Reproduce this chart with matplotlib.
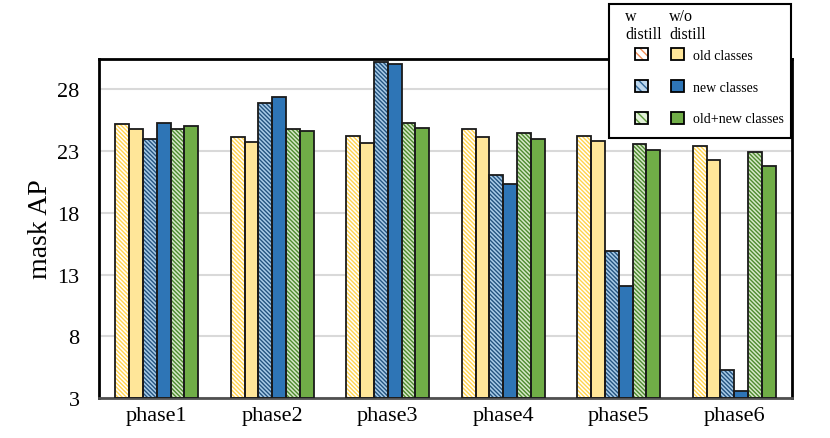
import matplotlib
matplotlib.use("Agg")
import matplotlib.pyplot as plt
import numpy as np
from matplotlib.patches import Patch, Rectangle
from matplotlib.legend_handler import HandlerTuple

plt.rcParams['font.family'] = ['Liberation Serif', 'DejaVu Serif']
plt.rcParams['hatch.linewidth'] = 1.0

phases = ["phase1", "phase2", "phase3", "phase4", "phase5", "phase6"]

old_w = [25.2, 24.1, 24.2, 24.75, 24.2, 23.4]
old_wo = [24.8, 23.7, 23.65, 24.15, 23.8, 22.3]
new_w = [23.95, 26.9, 30.2, 21.05, 14.9, 5.3]
new_wo = [25.3, 27.4, 30.05, 20.35, 12.1, 3.6]
both_w = [24.8, 24.75, 25.3, 24.45, 23.6, 22.9]
both_wo = [25.0, 24.6, 24.85, 24.0, 23.1, 21.75]

yticks = [3, 8, 13, 18, 23, 28]

# (values, face colour, hatch colour or None)
series = [
    (old_w, "white", "#FFD34D"),
    (old_wo, "#FFE699", None),
    (new_w, "#A9CCE8", "#24537F"),
    (new_wo, "#2E75B6", None),
    (both_w, "#D5E8C8", "#4E8A2E"),
    (both_wo, "#70AD47", None),
]

fig = plt.figure(figsize=(8.3, 4.39), dpi=100)
ax = fig.add_axes([99 / 830, 1 - 399 / 439, 693 / 830, 339 / 439])

x = np.arange(len(phases))
width = 0.12
for i, (vals, face, hcol) in enumerate(series):
    pos = x + (i - 2.5) * width
    heights = np.array(vals) - 3
    if hcol:
        ax.bar(pos, heights, width, bottom=3, color=face, edgecolor=hcol,
               hatch="\\" * 8, linewidth=0, zorder=2)
    else:
        ax.bar(pos, heights, width, bottom=3, color=face, linewidth=0, zorder=2)
    ax.bar(pos, heights, width, bottom=3, fill=False, edgecolor="#1a1a1a",
           linewidth=1.3, zorder=3)

ax.set_xlim(-0.5, 5.5)
ax.set_ylim(3, 30.45)
ax.set_yticks(yticks)
ax.set_xticks(x)
ax.set_xticklabels(phases)
ax.tick_params(axis="both", length=0, labelsize=16)
ax.tick_params(axis="y", pad=14)
ax.tick_params(axis="x", pad=6)
ax.yaxis.grid(True, color="#D9D9D9", linewidth=1.5, zorder=0)
ax.set_axisbelow(True)
ax.set_ylabel("mask AP", fontsize=20, labelpad=3)

for side in ["left", "top", "right"]:
    ax.spines[side].set_linewidth(2)
    ax.spines[side].set_color("black")
ax.spines["bottom"].set_linewidth(2)
ax.spines["bottom"].set_color("#505050")

# legend box
fig.patches.append(Rectangle((609 / 830, 1 - 139 / 439), 182 / 830, 134 / 439,
                             transform=fig.transFigure, facecolor="white",
                             edgecolor="black", linewidth=1.5, zorder=10))

def hatched(face, hcol):
    return (Patch(facecolor=face, edgecolor=hcol, hatch="\\" * 4, linewidth=0),
            Patch(fill=False, edgecolor="black", linewidth=1.3))

handles = [
    hatched("white", "#F0905A"),
    hatched("#BDD7EE", "#2F6596"),
    hatched("#E2F0D9", "#5E9B3A"),
    Patch(facecolor="#FFE699", edgecolor="black", linewidth=1.3),
    Patch(facecolor="#2E75B6", edgecolor="black", linewidth=1.3),
    Patch(facecolor="#70AD47", edgecolor="black", linewidth=1.3),
]
labels = ["", "", "", "old classes", "new classes", "old+new classes"]
leg = fig.legend(handles, labels, ncol=2, loc="upper left",
                 bbox_to_anchor=(628 / 830, 1 - 42 / 439), frameon=False,
                 fontsize=10, handlelength=0.95, handleheight=0.95,
                 handletextpad=0.6, columnspacing=1.05, labelspacing=1.3,
                 borderpad=0, handler_map={tuple: HandlerTuple(ndivide=1)})
leg.set_zorder(11)

fig.text(625 / 830, 1 - 21 / 439, "w", fontsize=11.5, zorder=12, va="baseline")
fig.text(625 / 830, 1 - 39 / 439, "distill", fontsize=11.5, zorder=12, va="baseline")
fig.text(669 / 830, 1 - 21 / 439, "w/o", fontsize=11.5, zorder=12, va="baseline")
fig.text(669 / 830, 1 - 39 / 439, "distill", fontsize=11.5, zorder=12, va="baseline")

fig.savefig("out.png", dpi=100)
